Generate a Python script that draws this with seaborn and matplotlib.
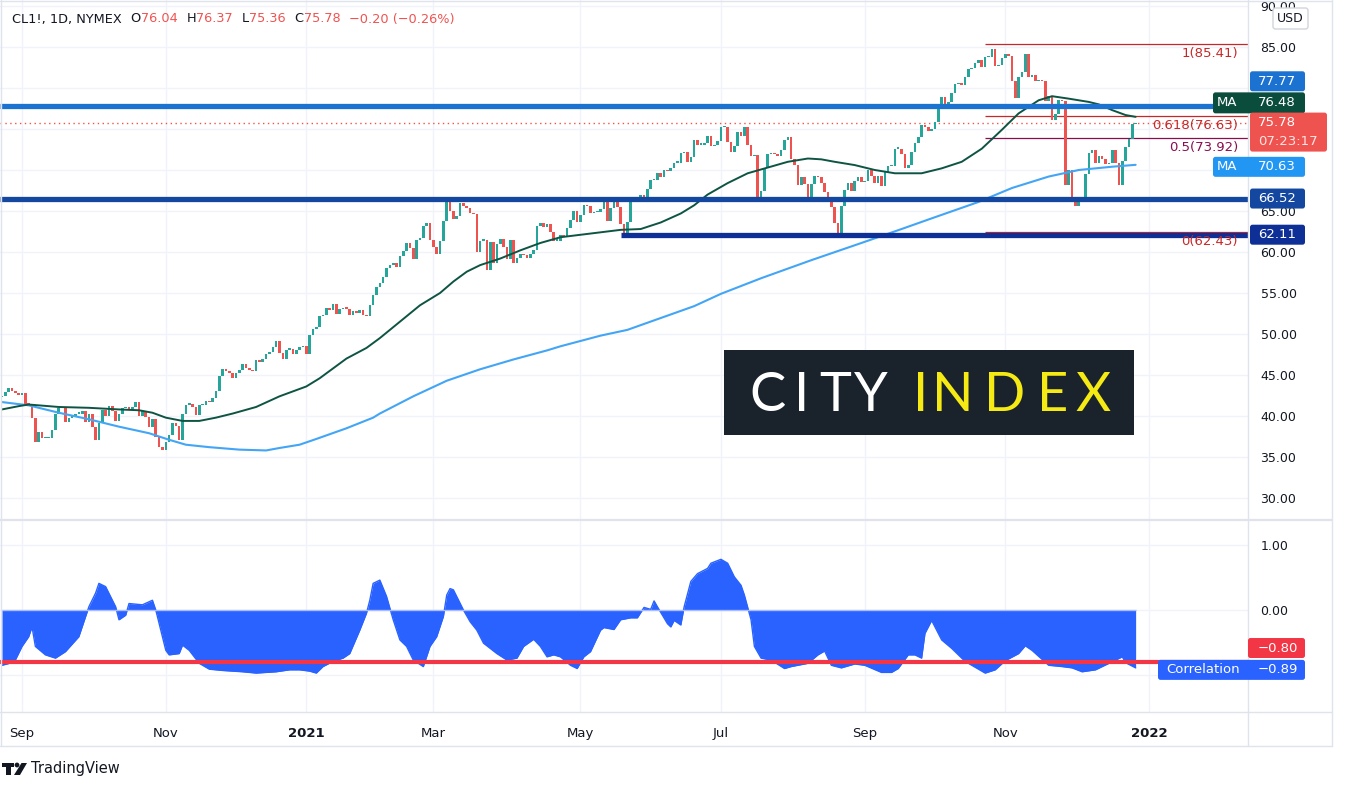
import numpy as np
import pandas as pd
import matplotlib
matplotlib.use("Agg")
import matplotlib.pyplot as plt
import matplotlib.transforms as mtrans
from matplotlib.patches import Rectangle, FancyBboxPatch, Polygon, Circle
from matplotlib.lines import Line2D
import seaborn as sns

sns.set_style("white")
plt.rcParams['font.family'] = ['DejaVu Sans']

# ---------------- data ----------------
holidays = ["2020-09-07", "2020-11-26", "2020-12-25", "2021-01-01", "2021-01-18",
            "2021-02-15", "2021-04-02", "2021-05-31", "2021-07-05", "2021-09-06",
            "2021-11-25", "2021-12-24", "2022-01-17"]

first_open = 42.3
# daily closes, CL1! from 2020-08-24 to 2021-12-28
closes = [
    42.5, 42.9, 43.4, 43.0, 42.8, 42.6,                                   # aug 20
    42.8, 41.5, 41.4, 39.8, 36.8, 38.1, 37.3, 37.3, 37.3, 38.3, 40.2,
    41.0, 41.1, 39.3, 39.8, 39.9, 40.3, 40.3, 40.6, 39.3, 40.2,           # sep
    38.7, 37.1, 39.2, 40.7, 40.0, 41.2, 40.6, 39.4, 40.2, 41.0, 41.0,
    40.9, 41.1, 41.7, 40.0, 40.6, 39.9, 38.6, 39.6, 37.4, 36.2, 35.8,     # oct
    36.8, 37.7, 39.1, 38.8, 37.1, 40.3, 41.4, 41.5, 41.1, 40.1, 41.3,
    41.4, 41.8, 41.7, 42.2, 43.1, 44.9, 45.7, 45.5, 45.3,                 # nov
    44.6, 45.3, 45.6, 46.3, 45.8, 45.6, 45.5, 46.8, 46.6, 47.0, 47.6,
    47.8, 48.4, 49.1, 47.7, 47.0, 48.1, 48.2, 47.6, 48.0, 48.4, 48.5,     # dec
    47.6, 49.9, 50.6, 50.8, 52.2, 52.3, 53.2, 52.9, 53.6, 52.4, 53.0,
    53.2, 53.1, 52.3, 52.8, 52.6, 52.9, 52.3, 52.2,                       # jan 21
    53.5, 54.8, 55.7, 56.2, 56.9, 58.0, 58.4, 58.7, 58.2, 59.5, 60.1,
    61.1, 60.5, 59.2, 61.5, 61.7, 63.2, 63.5, 61.5,                       # feb
    60.6, 59.8, 61.3, 63.8, 66.1, 65.0, 64.0, 64.4, 66.0, 65.6, 65.4,
    64.8, 64.6, 60.0, 61.4, 61.5, 57.8, 61.2, 58.6, 61.0, 61.6, 60.6, 59.2,  # mar
    61.5, 58.6, 59.3, 59.8, 59.6, 59.3, 59.7, 60.2, 63.2, 63.5, 63.1,
    63.4, 62.4, 61.4, 61.4, 62.1, 61.9, 62.9, 63.9, 65.0, 63.6,           # apr
    64.5, 65.7, 65.6, 64.7, 64.9, 64.9, 65.3, 66.1, 63.8, 65.4, 66.3,
    65.5, 63.4, 62.0, 63.6, 66.1, 66.1, 66.2, 66.9, 66.3,                 # may
    67.7, 68.8, 68.8, 69.6, 69.2, 70.0, 69.9, 70.3, 70.9, 70.9, 72.1,
    72.2, 71.0, 71.6, 73.7, 73.1, 73.1, 73.3, 74.1, 72.9, 73.0, 73.5,     # jun
    75.2, 75.2, 73.4, 72.2, 72.9, 74.6, 74.1, 75.3, 73.1, 71.7, 71.8,
    66.4, 67.4, 70.3, 71.9, 72.1, 71.9, 71.7, 72.4, 73.6, 74.0,           # jul
    71.3, 70.6, 68.2, 69.1, 68.3, 66.5, 68.3, 69.3, 69.1, 68.4, 67.3,
    66.6, 65.5, 63.5, 62.3, 65.6, 67.5, 68.4, 67.4, 68.7, 69.2, 68.5,     # aug
    68.6, 70.0, 69.3, 68.4, 69.3, 68.1, 69.7, 70.5, 70.5, 72.6, 72.6,
    72.0, 70.3, 70.6, 72.2, 73.3, 74.0, 75.5, 75.3, 74.8, 75.0,           # sep
    75.9, 77.6, 78.9, 77.4, 78.3, 79.4, 80.5, 80.6, 80.4, 81.3, 82.3,
    82.4, 83.0, 83.4, 82.5, 83.8, 83.8, 84.7, 82.7, 82.8, 83.6,           # oct
    84.1, 83.9, 80.9, 78.8, 81.3, 81.9, 84.2, 81.3, 81.6, 80.8, 80.9,
    80.8, 78.4, 79.0, 76.1, 76.8, 78.5, 78.4, 68.2, 70.0, 66.2,           # nov
    65.6, 66.5, 66.3, 69.5, 72.1, 72.4, 70.9, 71.7, 71.3, 70.7, 70.9,
    72.4, 70.9, 68.2, 71.1, 72.8, 73.8, 75.6, 75.78,                      # dec
]

# moving averages (trading-day number, value)
ma50_day = [0, 5, 8, 17, 26, 35, 41, 45, 49, 54, 59, 64, 69, 76, 83, 91, 95, 99,
            103, 109, 113, 119, 125, 131, 135, 139, 143, 149, 155, 161, 167, 177,
            185, 191, 197, 203, 207, 211, 217, 223, 229, 235, 241, 245, 249, 255,
            261, 267, 275, 281, 287, 293, 299, 304, 310, 314, 319, 325, 328, 332,
            336, 339]
ma50_val = [40.8, 41.2, 41.4, 41.1, 41.0, 40.8, 40.7, 40.4, 39.8, 39.4, 39.4, 39.8,
            40.3, 41.1, 42.4, 43.6, 44.6, 45.8, 47.0, 48.3, 49.5, 51.5, 53.5, 55.0,
            56.4, 57.6, 58.4, 59.2, 60.2, 61.1, 61.8, 62.3, 62.7, 62.8, 63.6, 64.7,
            65.7, 67.0, 68.4, 69.6, 70.3, 71.0, 71.4, 71.3, 71.0, 70.6, 70.0, 69.6,
            69.6, 70.2, 71.0, 72.6, 74.9, 76.9, 78.5, 79.0, 78.7, 78.3, 78.0, 77.3,
            76.7, 76.48]
ma200_day = [0, 8, 17, 26, 35, 44, 50, 55, 62, 71, 79, 83, 89, 94, 103, 111, 113,
             123, 133, 143, 153, 163, 167, 179, 187, 207, 215, 227, 242, 257, 269,
             278, 292, 302, 313, 322, 332, 339]
ma200_val = [41.7, 41.3, 40.4, 39.6, 38.7, 37.9, 37.1, 36.5, 36.2, 35.9, 35.8, 36.1,
             36.5, 37.2, 38.5, 39.8, 40.3, 42.4, 44.3, 45.7, 46.9, 48.0, 48.5, 49.8,
             50.5, 53.4, 54.9, 56.8, 59.0, 61.1, 62.8, 64.1, 66.1, 67.8, 69.2, 70.0,
             70.4, 70.63]

# correlation (trading-day number, value)
corr_day = [0, 3, 4, 6, 8, 9, 10, 13, 16, 19, 23, 26, 28, 29, 31, 34, 35, 37, 38,
            42, 45, 46, 48, 49, 50, 53, 54, 56, 59, 62, 66, 69, 72, 76, 79, 82, 86,
            89, 92, 94, 96, 99, 102, 104, 107, 109, 110, 111, 113, 115, 117, 119,
            121, 123, 126, 128, 130, 132, 133, 134, 135, 138, 140, 142, 144, 148,
            151, 154, 156, 159, 161, 163, 165, 167, 170, 172, 174, 176, 179, 180,
            183, 185, 188, 190, 192, 194, 195, 196, 199, 200, 201, 203, 204, 206,
            208, 211, 212, 215, 217, 219, 221, 222, 224, 225, 227, 230, 234, 236,
            241, 244, 246, 248, 251, 255, 258, 263, 266, 268, 271, 273, 275, 276,
            278, 281, 284, 286, 288, 290, 294, 297, 300, 304, 306, 308, 313, 317,
            320, 323, 327, 331, 335, 336, 339]
corr_val = [-0.85, -0.81, -0.77, -0.56, -0.41, -0.26, -0.56, -0.69, -0.74, -0.64,
            -0.41, 0.05, 0.26, 0.41, 0.36, 0.05, -0.15, -0.08, 0.10, 0.08, 0.15,
            0.0, -0.41, -0.62, -0.69, -0.67, -0.54, -0.62, -0.82, -0.91, -0.93,
            -0.94, -0.95, -0.97, -0.96, -0.95, -0.92, -0.92, -0.94, -0.97, -0.87,
            -0.79, -0.74, -0.67, -0.31, -0.05, 0.15, 0.41, 0.46, 0.21, -0.15,
            -0.46, -0.56, -0.77, -0.87, -0.56, -0.41, -0.10, 0.23, 0.33, 0.31,
            0.0, -0.18, -0.31, -0.51, -0.67, -0.77, -0.74, -0.56, -0.45, -0.56,
            -0.72, -0.69, -0.72, -0.85, -0.90, -0.72, -0.64, -0.31, -0.27, -0.30,
            -0.15, -0.12, -0.12, 0.04, 0.01, 0.14, 0.05, -0.21, -0.26, -0.16,
            -0.23, 0.05, 0.44, 0.56, 0.64, 0.72, 0.78, 0.72, 0.51, 0.38, 0.23,
            -0.15, -0.56, -0.74, -0.77, -0.90, -0.87, -0.82, -0.69, -0.63, -0.85,
            -0.89, -0.83, -0.85, -0.96, -0.96, -0.90, -0.69, -0.69, -0.74, -0.36,
            -0.16, -0.46, -0.59, -0.69, -0.79, -0.85, -0.97, -0.92, -0.78, -0.67,
            -0.55, -0.62, -0.85, -0.87, -0.89, -0.95, -0.92, -0.82, -0.72, -0.81,
            -0.89]

levels = [77.77, 66.52, 62.11]
level_from_day = [0, 0, 185]
fib_ratio = ["1", "0.618", "0.5", "0"]
fib_price = [85.41, 76.63, 73.92, 62.43]
fib_from_day = 294
last_ohlc = [76.04, 76.37, 75.36, 75.78]
last_change = [-0.20, -0.26]
ma50_last, ma200_last = 76.48, 70.63
corr_last, corr_level = -0.89, -0.80
countdown = "07:23:17"

month_ticks = ["2020-09", "2020-11", "2021-01", "2021-03", "2021-05",
               "2021-07", "2021-09", "2021-11", "2022-01"]
month_labels = ["Sep", "Nov", "2021", "Mar", "May", "Jul", "Sep", "Nov", "2022"]
price_ticks = [90, 85, 80, 75, 70, 65, 60, 55, 50, 45, 40, 35, 30]
hidden_price_ticks = [80, 75, 70]     # covered by the price tags in the original
corr_ticks = [1, 0, -1]

# ---------------- styling ----------------
GREEN, RED = "#26a69a", "#ef5350"
TEXT = "#131722"
GRID = "#f0f3fa"
BORDER = "#e0e3eb"
W, H = 1346, 790

fig = plt.figure(figsize=(W / 100, H / 100), dpi=100, facecolor="white")
ax = fig.add_axes([0, 1 - 519 / H, 1248 / W, 519 / H])
ax2 = fig.add_axes([0, 1 - 712 / H, 1248 / W, 192 / H])

days = pd.bdate_range("2020-08-24", "2022-01-31", freq="C", holidays=holidays)
tick_idx = [int(np.searchsorted(days, pd.Timestamp(m + "-01"))) for m in month_ticks]

n = len(closes)
x = np.arange(n)
c = np.array(closes)
o = np.r_[first_open, c[:-1]]
up = c >= o
body = np.maximum(np.abs(c - o), 0.15)

XL = (-0.58, 372.6)

# ---- main panel ----
ax.set_xlim(*XL)
ax.set_ylim(27.44, 90.73)
ax.set_xticks(tick_idx)
ax.set_yticks(price_ticks)
ax.set_yticklabels(["" if t in hidden_price_ticks else f"{t:.2f}" for t in price_ticks])
ax.grid(True, color=GRID, lw=1)
ax.yaxis.tick_right()
ax.tick_params(axis="y", length=0, pad=9, labelsize=9, labelcolor=TEXT)
ax.tick_params(axis="x", length=0, labelbottom=False)
for s in ax.spines.values():
    s.set_visible(False)

ax.bar(x, body, bottom=np.minimum(o, c), width=0.78,
       color=np.where(up, GREEN, RED), linewidth=0, zorder=3)

sns.lineplot(x=ma200_day, y=ma200_val, ax=ax, color="#42a5f5", lw=1.5, zorder=4)
sns.lineplot(x=ma50_day, y=ma50_val, ax=ax, color="#0e5443", lw=1.4, zorder=4)

fib_cols = ["#c62828", "#c62828", "#880e4f", "#c62828"]
lab_tr = (mtrans.blended_transform_factory(ax.transAxes, ax.transData)
          + mtrans.ScaledTranslation(0, -3 / 100, fig.dpi_scale_trans))
for r, p, col in zip(fib_ratio, fib_price, fib_cols):
    ax.hlines(p, fib_from_day, XL[1], color=col, lw=0.9, zorder=2)
    ax.text(1238 / 1248, p, f"{r}({p:.2f})", color=col, fontsize=9.5,
            ha="right", va="top", transform=lab_tr, zorder=6)

level_cols = ["#1c72d0", "#1448a0", "#0e2f96"]
for lv, d0, col in zip(levels, level_from_day, level_cols):
    ax.hlines(lv, d0 if d0 > 0 else XL[0], XL[1], color=col, lw=3.8, zorder=5)

ax.axhline(last_ohlc[3], color=RED, lw=1.0, ls=(0, (1, 2.5)), zorder=2)
ax.set_xlabel("")
ax.set_ylabel("")

# ---- correlation panel ----
ax2.set_xlim(*XL)
ax2.set_ylim(-1.569, 1.385)
ax2.fill_between(corr_day, corr_val, 0, color="#2962ff", lw=0, zorder=2)
sns.lineplot(x=corr_day, y=corr_val, ax=ax2, color="#2962ff", lw=1, zorder=2)
ax2.hlines(0, corr_day[0], corr_day[-1], color="#a8bcff", lw=1, zorder=3)
ax2.axhline(corr_level, color="#f23645", lw=3, zorder=4)
ax2.set_yticks(corr_ticks)
ax2.set_yticklabels(["" if t == -1 else f"{t:.2f}" for t in corr_ticks])
ax2.set_xticks(tick_idx)
ax2.set_xticklabels(month_labels)
ax2.grid(True, color=GRID, lw=1)
ax2.yaxis.tick_right()
ax2.tick_params(axis="y", length=0, pad=9, labelsize=9, labelcolor=TEXT)
ax2.tick_params(axis="x", length=0, pad=11, labelsize=9.5, labelcolor=TEXT)
for lab in ax2.get_xticklabels():
    if lab.get_text().isdigit():
        lab.set_fontweight("bold")
for s in ax2.spines.values():
    s.set_visible(False)
ax2.set_xlabel("")
ax2.set_ylabel("")

# ---------------- overlays in pixel space ----------------
IDT = mtrans.IdentityTransform()


def py_main(v):
    return H - ax.transData.transform((0, v))[1]


def py_corr(v):
    return H - ax2.transData.transform((0, v))[1]


def hline_px(x0, x1, y, col=BORDER, lw=1.0):
    fig.add_artist(Line2D([x0, x1], [H - y, H - y], color=col, lw=lw, transform=IDT, zorder=8))


def vline_px(xp, y0, y1, col=BORDER, lw=1.0):
    fig.add_artist(Line2D([xp, xp], [H - y0, H - y1], color=col, lw=lw, transform=IDT, zorder=8))


def tag(x0, x1, yc, h, col, ec="none"):
    fig.add_artist(FancyBboxPatch((x0, H - yc - h / 2), x1 - x0, h,
                                  boxstyle="round,pad=0,rounding_size=2.5",
                                  fc=col, ec=ec, lw=1, transform=IDT, zorder=10))


def txt(xp, yp, s, col="white", size=9, ha="left", **kw):
    return fig.text(xp / W, 1 - yp / H, s, color=col, fontsize=size, ha=ha, va="center",
                    zorder=11, **kw)


# frame
vline_px(1248, 0, 746)
vline_px(1332, 0, 746)
vline_px(1, 0, 746)
hline_px(0, 1332, 0.5)
hline_px(0, 1332, 519.5, lw=1.6)
hline_px(0, 1332, 712)
hline_px(0, 1332, 746)

# price scale tags
tag(1273, 1308, 18.5, 21, "white", ec="#d1d4dc")
txt(1290.5, 18.5, "USD", TEXT, ha="center")

y = py_main(levels[0]) - 25
tag(1250, 1305, y, 20, "#1c72d0")
txt(1258, y, f"{levels[0]:.2f}", size=9.5)

y = py_main(ma50_last) - 14
tag(1213, 1305, y, 21, "#0b4d3d")
txt(1217, y, "MA", size=9.5)
txt(1258, y, f"{ma50_last:.2f}", size=9.5)

y = py_main(last_ohlc[3])
tag(1250, 1327, y + 9.5, 39, RED)
txt(1258, y, f"{last_ohlc[3]:.2f}", size=9.5)
txt(1258, y + 19, countdown, "#fde4e4", size=9.5)

y = py_main(ma200_last) + 2
tag(1213, 1305, y, 20, "#2196f3")
txt(1217, y, "MA", size=9.5)
txt(1258, y, f"{ma200_last:.2f}", size=9.5)

for lv, col in zip(levels[1:], level_cols[1:]):
    y = py_main(lv)
    tag(1250, 1305, y, 20, col)
    txt(1258, y, f"{lv:.2f}", size=9.5)

y = py_corr(corr_level) - 14
tag(1248, 1305, y, 20, "#f23645")
txt(1258, y, f"{corr_level:.2f}".replace("-", "\u2212"), size=9.5)
y = py_corr(corr_last) + 2
tag(1158, 1305, y, 20, "#2962ff")
txt(1166, y, "Correlation", size=9.5)
txt(1258, y, f"{corr_last:.2f}".replace("-", "\u2212"), size=9.5)

# header legend, laid out left to right
renderer = fig.canvas.get_renderer()
parts = [("CL1!, 1D, NYMEX", TEXT, 8), ("O", TEXT, 0), (f"{last_ohlc[0]:.2f}", RED, 8),
         ("H", TEXT, 0), (f"{last_ohlc[1]:.2f}", RED, 8), ("L", TEXT, 0),
         (f"{last_ohlc[2]:.2f}", RED, 8), ("C", TEXT, 0), (f"{last_ohlc[3]:.2f}", RED, 8),
         (f"{last_change[0]:.2f} ({last_change[1]:.2f}%)".replace("-", "\u2212"), RED, 0)]
xp = 12
for s, col, gap in parts:
    t = txt(xp, 19, s, col, size=9.3)
    xp = t.get_window_extent(renderer).x1 + gap + 0.5

# City Index logo
fig.add_artist(Rectangle((724, H - 435), 410, 85, fc="#1a232b", ec="none", transform=IDT, zorder=12))
letters = [("C", 768, "white"), ("I", 802, "white"), ("T", 835, "white"), ("Y", 871, "white"),
           ("I", 921, "#f5ea14"), ("N", 953, "#f5ea14"), ("D", 1005, "#f5ea14"),
           ("E", 1053, "#f5ea14"), ("X", 1093, "#f5ea14")]
for ch, xl, col in letters:
    fig.text(xl / W, 1 - 411 / H, ch, color=col, fontsize=39, family="Lato",
             fontweight="normal", ha="center", va="baseline", zorder=13)

# TradingView footer
fig.add_artist(Rectangle((2, H - 767), 12, 4.5, fc=TEXT, ec="none", transform=IDT, zorder=12))
fig.add_artist(Rectangle((6, H - 775), 5, 12, fc=TEXT, ec="none", transform=IDT, zorder=12))
fig.add_artist(Circle((17, H - 765), 2.4, fc=TEXT, ec="none", transform=IDT, zorder=12))
fig.add_artist(Polygon([(14, H - 775), (20, H - 775), (27, H - 763), (21.5, H - 763)],
                       closed=True, fc=TEXT, ec="none", transform=IDT, zorder=12))
txt(31, 768, "TradingView", TEXT, size=10.5)

fig.savefig("out.png", dpi=100, facecolor="white")
